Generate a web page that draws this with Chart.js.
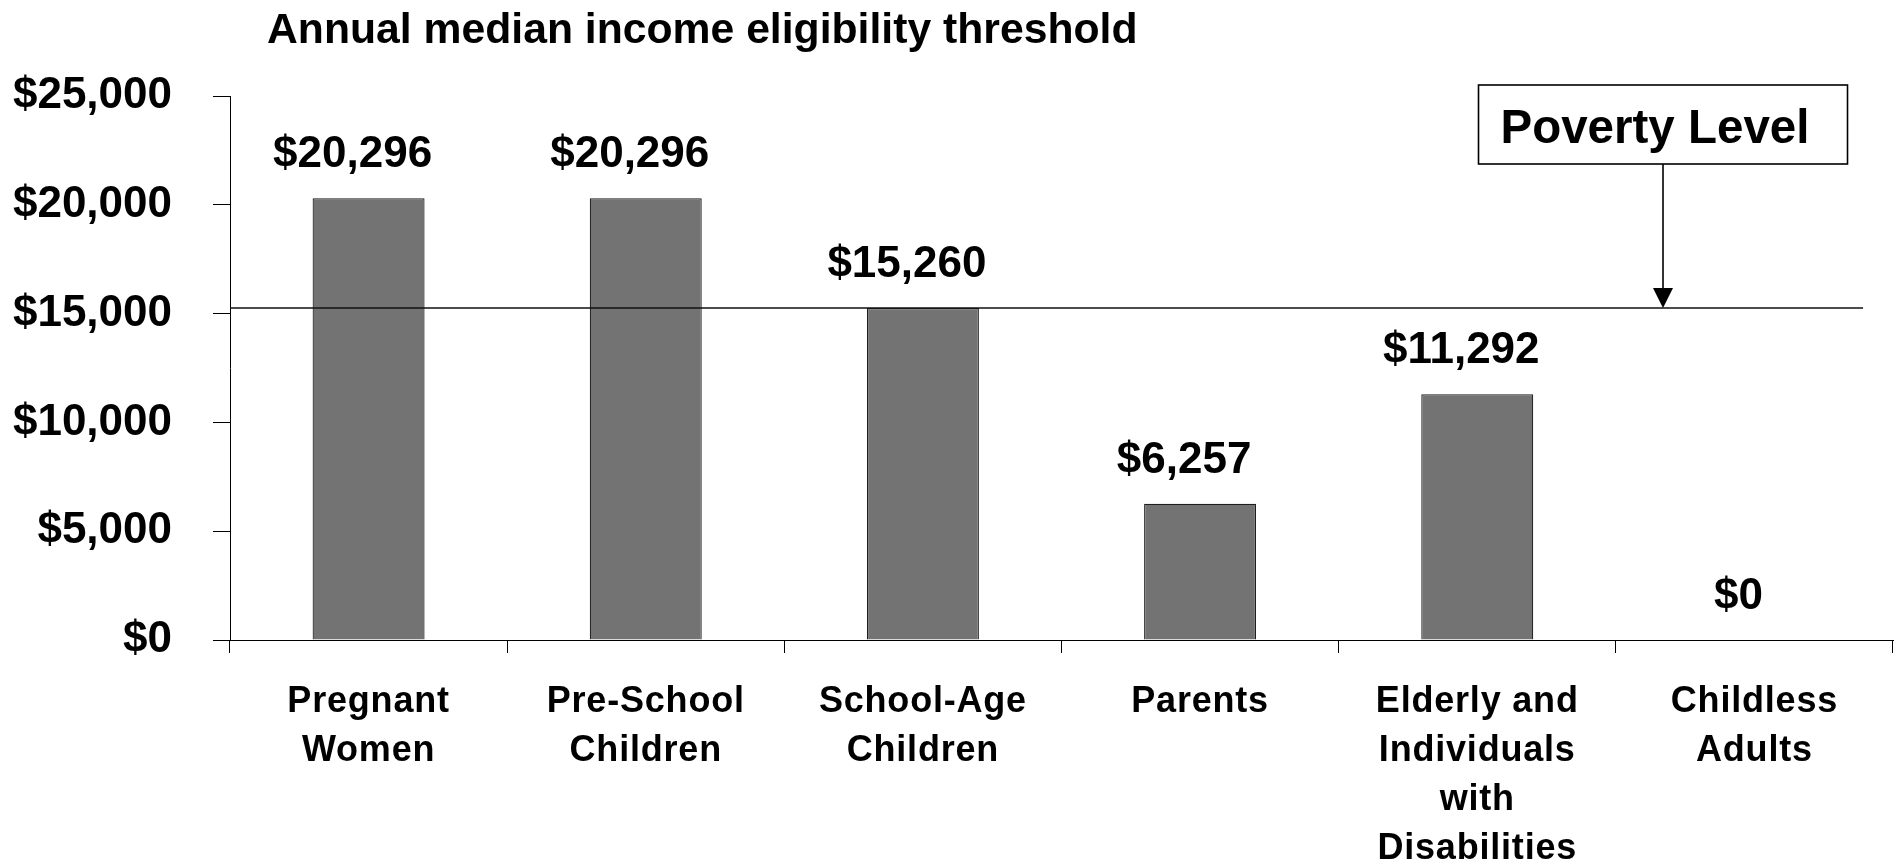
<!DOCTYPE html>
<html>
<head>
<meta charset="utf-8">
<title>Annual median income eligibility threshold</title>
<script src="https://cdn.jsdelivr.net/npm/chart.js@4/dist/chart.umd.min.js"></script>
<style>
  html, body { margin: 0; padding: 0; background: #ffffff; }
  canvas { display: block; }
</style>
</head>
<body>
<canvas id="chart" width="1899" height="863"></canvas>
<script>
// Eligibility groups (multi-line category labels)
const categories = [
  ['Pregnant', 'Women'],
  ['Pre-School', 'Children'],
  ['School-Age', 'Children'],
  ['Parents'],
  ['Elderly and', 'Individuals', 'with', 'Disabilities'],
  ['Childless', 'Adults']
];

// Annual median income eligibility threshold, in dollars
const thresholds = [20296, 20296, 15260, 6257, 11292, 0];

// Federal poverty level reference line, in dollars
const povertyLevel = 15260;
const povertyLabel = 'Poverty Level';

// Value axis ticks
const yTicks = [0, 5000, 10000, 15000, 20000, 25000];

const chartTitle = 'Annual median income eligibility threshold';

const FONT = '"Liberation Sans", Arial, Helvetica, sans-serif';
const money = v => '$' + Number(v).toLocaleString('en-US');

// Title, value labels, poverty line and its callout
const annotations = {
  id: 'annotations',
  beforeDraw(chart) {
    // slightly spaced category labels
    const xs = chart.scales.x;
    if (!xs || xs._spacedLabels) return;
    const orig = xs.drawLabels;
    xs.drawLabels = function (area) {
      const ctx = this.ctx;
      ctx.save();
      ctx.letterSpacing = '0.8px';
      orig.call(this, area);
      ctx.restore();
    };
    xs._spacedLabels = true;
  },
  afterDatasetsDraw(chart) {
    const { ctx, chartArea: a, scales: { y } } = chart;
    const w = a.right - a.left;

    // value labels above each bar
    const meta = chart.getDatasetMeta(0);
    ctx.save();
    ctx.fillStyle = '#000';
    ctx.font = 'bold 44px ' + FONT;
    ctx.textAlign = 'center';
    ctx.textBaseline = 'alphabetic';
    meta.data.forEach((bar, i) => {
      ctx.fillText(money(thresholds[i]), bar.x - 16, bar.y - 31);
    });
    ctx.restore();

    // poverty line
    const py = y.getPixelForValue(povertyLevel);
    ctx.save();
    ctx.strokeStyle = '#111';
    ctx.lineWidth = 1.6;
    ctx.beginPath();
    ctx.moveTo(a.left, py);
    ctx.lineTo(a.left + w * 0.982, py);
    ctx.stroke();

    // callout box with arrow pointing at the line
    const ax = a.left + w * 0.8617;
    const boxW = 369, boxH = 79;
    const boxBottom = a.top + 68;
    const boxLeft = ax - boxW / 2;
    ctx.lineWidth = 1.6;
    ctx.strokeStyle = '#000';
    ctx.fillStyle = '#fff';
    ctx.fillRect(boxLeft, boxBottom - boxH, boxW, boxH);
    ctx.strokeRect(boxLeft, boxBottom - boxH, boxW, boxH);
    ctx.fillStyle = '#000';
    ctx.font = 'bold 47.5px ' + FONT;
    ctx.textAlign = 'left';
    ctx.textBaseline = 'alphabetic';
    ctx.fillText(povertyLabel, boxLeft + 22, boxBottom - 21);

    ctx.beginPath();
    ctx.moveTo(ax, boxBottom);
    ctx.lineTo(ax, py - 18);
    ctx.stroke();
    ctx.beginPath();
    ctx.moveTo(ax - 10, py - 20);
    ctx.lineTo(ax + 10, py - 20);
    ctx.lineTo(ax, py);
    ctx.closePath();
    ctx.fill();
    ctx.restore();

    // chart title
    ctx.save();
    ctx.fillStyle = '#000';
    ctx.font = 'bold 42.7px ' + FONT;
    ctx.textAlign = 'left';
    ctx.textBaseline = 'alphabetic';
    ctx.fillText(chartTitle, a.left + 37, 43);
    ctx.restore();
  }
};

new Chart(document.getElementById('chart'), {
  type: 'bar',
  data: {
    labels: categories,
    datasets: [{
      data: thresholds,
      backgroundColor: '#737373',
      borderColor: '#1e1e1e',
      borderWidth: 1.2,
      categoryPercentage: 1,
      barPercentage: 0.404
    }]
  },
  options: {
    responsive: false,
    devicePixelRatio: 1,
    animation: false,
    layout: { padding: { top: 96, right: 6, left: 0, bottom: 0 } },
    plugins: {
      legend: { display: false },
      tooltip: { enabled: false },
      title: { display: false }
    },
    scales: {
      x: {
        afterFit(scale) { scale.height = 223; },
        grid: {
          offset: true,
          drawOnChartArea: false,
          drawTicks: true,
          tickLength: 13,
          color: '#000',
          lineWidth: 1
        },
        border: { display: true, color: '#000', width: 1 },
        ticks: {
          color: '#000',
          padding: 25,
          maxRotation: 0,
          autoSkip: false,
          font: { family: FONT, size: 36, weight: 'bold', lineHeight: 1.36 }
        }
      },
      y: {
        min: yTicks[0],
        max: yTicks[yTicks.length - 1],
        afterFit(scale) { scale.width = 230; },
        afterBuildTicks(scale) { scale.ticks = yTicks.map(v => ({ value: v })); },
        grid: {
          drawOnChartArea: false,
          drawTicks: true,
          tickLength: 17,
          color: '#000',
          lineWidth: 1
        },
        border: { display: true, color: '#000', width: 1 },
        ticks: {
          color: '#000',
          padding: 41,
          callback: v => money(v),
          font: { family: FONT, size: 44, weight: 'bold' }
        }
      }
    }
  },
  plugins: [annotations]
});
</script>
</body>
</html>
